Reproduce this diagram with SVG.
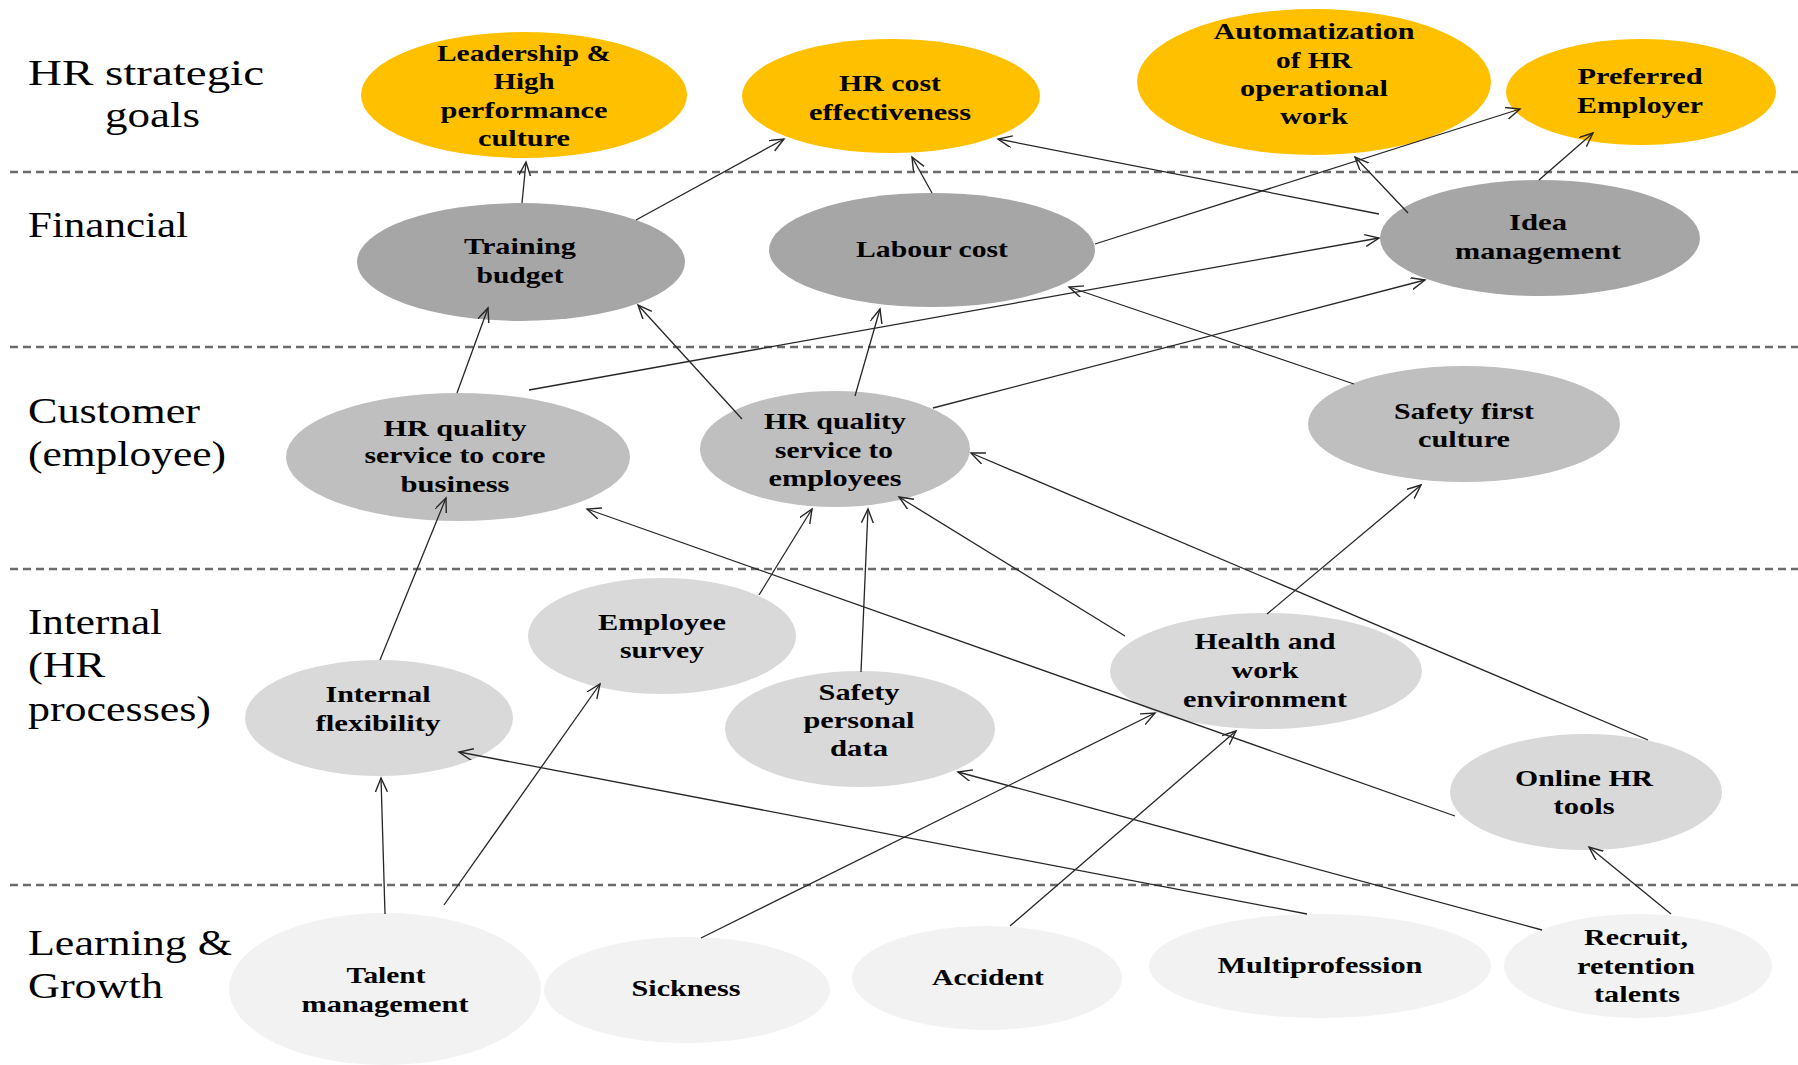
<svg xmlns="http://www.w3.org/2000/svg" width="1798" height="1065" viewBox="0 0 1798 1065">
  <defs>
    <marker id="arrow" markerUnits="userSpaceOnUse" markerWidth="18" markerHeight="16" refX="14" refY="6" orient="auto">
      <path d="M0,0 L14,6 L0,12" fill="none" stroke="#262626" stroke-width="1.4" stroke-linejoin="miter"/>
    </marker>
    <style>
      .lane { font-family: "Liberation Serif", "Times New Roman", serif; font-size: 36px; fill: #000; }
      .lbl { font-family: "Liberation Serif", "Times New Roman", serif; font-size: 23px; font-weight: bold; fill: #000; text-anchor: middle; }
      .goal { fill: #FFC000; }
      .fin { fill: #A6A6A6; }
      .cust { fill: #BFBFBF; }
      .proc { fill: #D9D9D9; }
      .grow { fill: #F2F2F2; }
      .sep { stroke: #6b6b6b; stroke-width: 2.5; stroke-dasharray: 8 5; fill: none; }
      .link { stroke: #262626; stroke-width: 1.3; fill: none; marker-end: url(#arrow); }
    </style>
  </defs>

  <rect width="1798" height="1065" fill="#ffffff"/>

  <!-- lane separators -->
  <g id="separators">
    <line class="sep" x1="10" y1="172" x2="1798" y2="172"/>
    <line class="sep" x1="10" y1="347" x2="1798" y2="347"/>
    <line class="sep" x1="10" y1="569" x2="1798" y2="569"/>
    <line class="sep" x1="10" y1="885" x2="1798" y2="885"/>
  </g>

  <!-- lane titles -->
  <g id="lane-titles">
    <text class="lane" x="28" y="85" textLength="236" lengthAdjust="spacingAndGlyphs">HR strategic</text>
    <text class="lane" x="105" y="127" textLength="95" lengthAdjust="spacingAndGlyphs">goals</text>
    <text class="lane" x="28" y="237" textLength="160" lengthAdjust="spacingAndGlyphs">Financial</text>
    <text class="lane" x="28" y="423" textLength="172" lengthAdjust="spacingAndGlyphs">Customer</text>
    <text class="lane" x="28" y="466" textLength="198" lengthAdjust="spacingAndGlyphs">(employee)</text>
    <text class="lane" x="28" y="634" textLength="134" lengthAdjust="spacingAndGlyphs">Internal</text>
    <text class="lane" x="28" y="677" textLength="77" lengthAdjust="spacingAndGlyphs">(HR</text>
    <text class="lane" x="28" y="721" textLength="183" lengthAdjust="spacingAndGlyphs">processes)</text>
    <text class="lane" x="28" y="955" textLength="204" lengthAdjust="spacingAndGlyphs">Learning &amp;</text>
    <text class="lane" x="28" y="998" textLength="135" lengthAdjust="spacingAndGlyphs">Growth</text>
  </g>

  <!-- HR strategic goals -->
  <g id="leadership">
    <ellipse class="goal" cx="524" cy="95" rx="163" ry="63"/>
    <text class="lbl" x="524" y="61" textLength="174" lengthAdjust="spacingAndGlyphs">Leadership &amp;</text>
    <text class="lbl" x="524" y="89" textLength="61" lengthAdjust="spacingAndGlyphs">High</text>
    <text class="lbl" x="524" y="118" textLength="167" lengthAdjust="spacingAndGlyphs">performance</text>
    <text class="lbl" x="524" y="146" textLength="92" lengthAdjust="spacingAndGlyphs">culture</text>
  </g>
  <g id="hr-cost-effectiveness">
    <ellipse class="goal" cx="891" cy="96" rx="149" ry="57"/>
    <text class="lbl" x="890" y="91" textLength="102" lengthAdjust="spacingAndGlyphs">HR cost</text>
    <text class="lbl" x="890" y="120" textLength="162" lengthAdjust="spacingAndGlyphs">effectiveness</text>
  </g>
  <g id="automatization">
    <ellipse class="goal" cx="1314" cy="82" rx="177" ry="73"/>
    <text class="lbl" x="1314" y="39" textLength="201" lengthAdjust="spacingAndGlyphs">Automatization</text>
    <text class="lbl" x="1314" y="68" textLength="76" lengthAdjust="spacingAndGlyphs">of HR</text>
    <text class="lbl" x="1314" y="96" textLength="148" lengthAdjust="spacingAndGlyphs">operational</text>
    <text class="lbl" x="1314" y="124" textLength="68" lengthAdjust="spacingAndGlyphs">work</text>
  </g>
  <g id="preferred-employer">
    <ellipse class="goal" cx="1641" cy="92" rx="135" ry="53"/>
    <text class="lbl" x="1640" y="84" textLength="125" lengthAdjust="spacingAndGlyphs">Preferred</text>
    <text class="lbl" x="1640" y="113" textLength="126" lengthAdjust="spacingAndGlyphs">Employer</text>
  </g>

  <!-- Financial -->
  <g id="training-budget">
    <ellipse class="fin" cx="521" cy="262" rx="164" ry="59"/>
    <text class="lbl" x="520" y="254" textLength="112" lengthAdjust="spacingAndGlyphs">Training</text>
    <text class="lbl" x="520" y="283" textLength="87" lengthAdjust="spacingAndGlyphs">budget</text>
  </g>
  <g id="labour-cost">
    <ellipse class="fin" cx="932" cy="250" rx="163" ry="57"/>
    <text class="lbl" x="932" y="257" textLength="152" lengthAdjust="spacingAndGlyphs">Labour cost</text>
  </g>
  <g id="idea-management">
    <ellipse class="fin" cx="1540" cy="238" rx="160" ry="58"/>
    <text class="lbl" x="1538" y="230" textLength="58" lengthAdjust="spacingAndGlyphs">Idea</text>
    <text class="lbl" x="1538" y="259" textLength="166" lengthAdjust="spacingAndGlyphs">management</text>
  </g>

  <!-- Customer (employee) -->
  <g id="hr-quality-core">
    <ellipse class="cust" cx="458" cy="457" rx="172" ry="64"/>
    <text class="lbl" x="455" y="436" textLength="143" lengthAdjust="spacingAndGlyphs">HR quality</text>
    <text class="lbl" x="455" y="463" textLength="181" lengthAdjust="spacingAndGlyphs">service to core</text>
    <text class="lbl" x="455" y="492" textLength="109" lengthAdjust="spacingAndGlyphs">business</text>
  </g>
  <g id="hr-quality-employees">
    <ellipse class="cust" cx="835" cy="449" rx="135" ry="58"/>
    <text class="lbl" x="835" y="429" textLength="142" lengthAdjust="spacingAndGlyphs">HR quality</text>
    <text class="lbl" x="834" y="458" textLength="118" lengthAdjust="spacingAndGlyphs">service to</text>
    <text class="lbl" x="835" y="486" textLength="133" lengthAdjust="spacingAndGlyphs">employees</text>
  </g>
  <g id="safety-first-culture">
    <ellipse class="cust" cx="1464" cy="424" rx="156" ry="58"/>
    <text class="lbl" x="1464" y="419" textLength="140" lengthAdjust="spacingAndGlyphs">Safety first</text>
    <text class="lbl" x="1464" y="447" textLength="92" lengthAdjust="spacingAndGlyphs">culture</text>
  </g>

  <!-- Internal (HR processes) -->
  <g id="employee-survey">
    <ellipse class="proc" cx="662" cy="636" rx="134" ry="58"/>
    <text class="lbl" x="662" y="630" textLength="128" lengthAdjust="spacingAndGlyphs">Employee</text>
    <text class="lbl" x="662" y="658" textLength="84" lengthAdjust="spacingAndGlyphs">survey</text>
  </g>
  <g id="internal-flexibility">
    <ellipse class="proc" cx="379" cy="718" rx="134" ry="58"/>
    <text class="lbl" x="378" y="702" textLength="105" lengthAdjust="spacingAndGlyphs">Internal</text>
    <text class="lbl" x="378" y="731" textLength="125" lengthAdjust="spacingAndGlyphs">flexibility</text>
  </g>
  <g id="safety-personal-data">
    <ellipse class="proc" cx="860" cy="729" rx="135" ry="58"/>
    <text class="lbl" x="859" y="700" textLength="81" lengthAdjust="spacingAndGlyphs">Safety</text>
    <text class="lbl" x="859" y="728" textLength="111" lengthAdjust="spacingAndGlyphs">personal</text>
    <text class="lbl" x="859" y="756" textLength="58" lengthAdjust="spacingAndGlyphs">data</text>
  </g>
  <g id="health-work-environment">
    <ellipse class="proc" cx="1266" cy="671" rx="156" ry="58"/>
    <text class="lbl" x="1265" y="649" textLength="141" lengthAdjust="spacingAndGlyphs">Health and</text>
    <text class="lbl" x="1265" y="678" textLength="67" lengthAdjust="spacingAndGlyphs">work</text>
    <text class="lbl" x="1265" y="707" textLength="164" lengthAdjust="spacingAndGlyphs">environment</text>
  </g>
  <g id="online-hr-tools">
    <ellipse class="proc" cx="1586" cy="792" rx="136" ry="58"/>
    <text class="lbl" x="1584" y="786" textLength="138" lengthAdjust="spacingAndGlyphs">Online HR</text>
    <text class="lbl" x="1584" y="814" textLength="61" lengthAdjust="spacingAndGlyphs">tools</text>
  </g>

  <!-- Learning & Growth -->
  <g id="talent-management">
    <ellipse class="grow" cx="385" cy="989" rx="156" ry="76"/>
    <text class="lbl" x="386" y="983" textLength="79" lengthAdjust="spacingAndGlyphs">Talent</text>
    <text class="lbl" x="385" y="1012" textLength="167" lengthAdjust="spacingAndGlyphs">management</text>
  </g>
  <g id="sickness">
    <ellipse class="grow" cx="687" cy="990" rx="143" ry="53"/>
    <text class="lbl" x="686" y="996" textLength="109" lengthAdjust="spacingAndGlyphs">Sickness</text>
  </g>
  <g id="accident">
    <ellipse class="grow" cx="987" cy="978" rx="135" ry="52"/>
    <text class="lbl" x="988" y="985" textLength="112" lengthAdjust="spacingAndGlyphs">Accident</text>
  </g>
  <g id="multiprofession">
    <ellipse class="grow" cx="1320" cy="966" rx="171" ry="52"/>
    <text class="lbl" x="1320" y="973" textLength="205" lengthAdjust="spacingAndGlyphs">Multiprofession</text>
  </g>
  <g id="recruit-retention">
    <ellipse class="grow" cx="1638" cy="966" rx="134" ry="52"/>
    <text class="lbl" x="1636" y="945" textLength="104" lengthAdjust="spacingAndGlyphs">Recruit,</text>
    <text class="lbl" x="1636" y="974" textLength="118" lengthAdjust="spacingAndGlyphs">retention</text>
    <text class="lbl" x="1637" y="1002" textLength="86" lengthAdjust="spacingAndGlyphs">talents</text>
  </g>

  <!-- cause-and-effect links -->
  <g id="connectors">
    <line class="link" x1="522" y1="203" x2="526" y2="162"/>
    <line class="link" x1="636" y1="220" x2="784" y2="139"/>
    <line class="link" x1="932" y1="193" x2="912" y2="157"/>
    <line class="link" x1="1095" y1="244" x2="1520" y2="109"/>
    <line class="link" x1="1379" y1="214" x2="998" y2="139"/>
    <line class="link" x1="1408" y1="213" x2="1355" y2="157"/>
    <line class="link" x1="1539" y1="180" x2="1593" y2="133"/>
    <line class="link" x1="457" y1="393" x2="488" y2="308"/>
    <line class="link" x1="529" y1="390" x2="1379" y2="238"/>
    <line class="link" x1="742" y1="419" x2="638" y2="305"/>
    <line class="link" x1="855" y1="396" x2="880" y2="309"/>
    <line class="link" x1="933" y1="408" x2="1425" y2="280"/>
    <line class="link" x1="1354" y1="384" x2="1069" y2="287"/>
    <line class="link" x1="380" y1="660" x2="446" y2="498"/>
    <line class="link" x1="759" y1="595" x2="812" y2="509"/>
    <line class="link" x1="861" y1="672" x2="868" y2="509"/>
    <line class="link" x1="1125" y1="636" x2="899" y2="497"/>
    <line class="link" x1="1267" y1="614" x2="1421" y2="485"/>
    <line class="link" x1="1648" y1="740" x2="971" y2="453"/>
    <line class="link" x1="1455" y1="816" x2="587" y2="509"/>
    <line class="link" x1="385" y1="914" x2="381" y2="778"/>
    <line class="link" x1="444" y1="905" x2="600" y2="684"/>
    <line class="link" x1="701" y1="938" x2="1155" y2="713"/>
    <line class="link" x1="1010" y1="926" x2="1236" y2="731"/>
    <line class="link" x1="1307" y1="914" x2="459" y2="752"/>
    <line class="link" x1="1542" y1="930" x2="958" y2="772"/>
    <line class="link" x1="1671" y1="914" x2="1589" y2="847"/>
  </g>
</svg>
